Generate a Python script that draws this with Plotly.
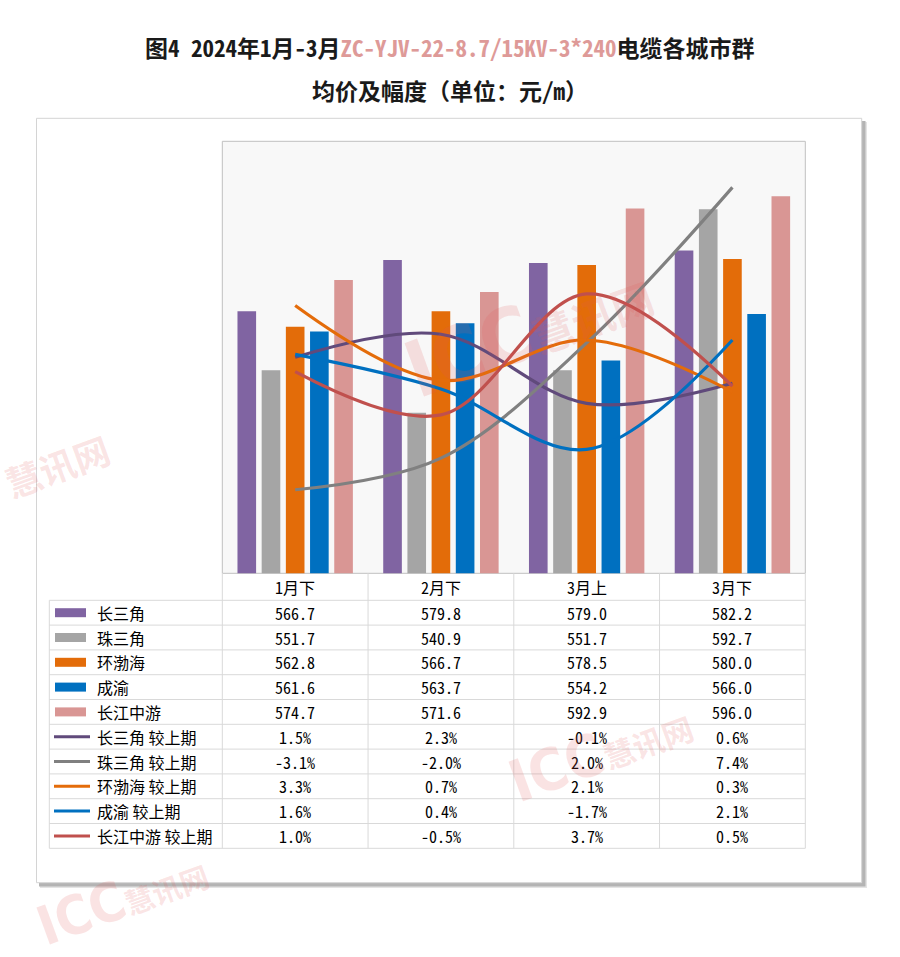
import plotly.graph_objects as go

# ---------------- data ----------------
categories = ["1月下", "2月下", "3月上", "3月下"]
regions = ["长三角", "珠三角", "环渤海", "成渝", "长江中游"]

price_csj = [566.7, 579.8, 579.0, 582.2]
price_zsj = [551.7, 540.9, 551.7, 592.7]
price_hbh = [562.8, 566.7, 578.5, 580.0]
price_cy = [561.6, 563.7, 554.2, 566.0]
price_cjzy = [574.7, 571.6, 592.9, 596.0]

chg_csj = [1.5, 2.3, -0.1, 0.6]
chg_zsj = [-3.1, -2.0, 2.0, 7.4]
chg_hbh = [3.3, 0.7, 2.1, 0.3]
chg_cy = [1.6, 0.4, -1.7, 2.1]
chg_cjzy = [1.0, -0.5, 3.7, 0.5]

prices = [price_csj, price_zsj, price_hbh, price_cy, price_cjzy]
changes = [chg_csj, chg_zsj, chg_hbh, chg_cy, chg_cjzy]
change_suffix = " 较上期"

bar_colors = ["#8064A2", "#A5A5A5", "#E36C09", "#0070C0", "#D99694"]
line_colors = ["#604A7B", "#808080", "#E46C0A", "#0070C0", "#C0504D"]

# ---------------- layout constants (pixels) ----------------
W, H = 900, 957
PL, PR, PT, PB = 222.3, 805.3, 141.3, 573.3
HDR_B = 600.3
ROW_H = 24.8
LEG_L = 49.3
GRID = "#d9d9d9"
MONO = "Noto Sans Mono CJK SC, DejaVu Sans Mono, monospace"
CJK = "Noto Sans CJK SC, sans-serif"


def fx(x):
    return x / W


def fy(y):
    return 1 - y / H


fig = go.Figure()

for name, vals, col in zip(regions, prices, bar_colors):
    fig.add_trace(go.Bar(x=categories, y=vals, name=name, marker_color=col,
                         marker_line_width=0, yaxis="y", showlegend=False))

for name, vals, col in zip(regions, changes, line_colors):
    fig.add_trace(go.Scatter(x=categories, y=vals, name=name + change_suffix, mode="lines",
                             line=dict(color=col, width=3.2, shape="spline", smoothing=1.0),
                             yaxis="y2", showlegend=False))

shapes = []
# outer chart box with shadow
shapes.append(dict(type="rect", xref="paper", yref="paper", x0=fx(40), x1=fx(867), y0=fy(888), y1=fy(122),
                   fillcolor="#e4e4e4", line_width=0, layer="below"))
shapes.append(dict(type="rect", xref="paper", yref="paper", x0=fx(39), x1=fx(865.5), y0=fy(886.5), y1=fy(121),
                   fillcolor="#b4b4b4", line_width=0, layer="below"))
shapes.append(dict(type="rect", xref="paper", yref="paper", x0=fx(36.5), x1=fx(861.7), y0=fy(882.7), y1=fy(118.3),
                   fillcolor="white", line=dict(color="#d4d4d4", width=1), layer="below"))
# plot area
shapes.append(dict(type="rect", xref="paper", yref="paper", x0=fx(PL), x1=fx(PR), y0=fy(PB), y1=fy(PT),
                   fillcolor="#f8f8f8", line=dict(color="#c0c0c0", width=1), layer="below"))

n_rows = 2 * len(regions)
TBL_B = HDR_B + n_rows * ROW_H
col_w = (PR - PL) / len(categories)
# vertical table lines
for i in range(len(categories) + 1):
    xx = PL + i * col_w
    shapes.append(dict(type="line", xref="paper", yref="paper", x0=fx(xx), x1=fx(xx), y0=fy(PB), y1=fy(TBL_B),
                       line=dict(color=GRID, width=1), layer="below"))
shapes.append(dict(type="line", xref="paper", yref="paper", x0=fx(LEG_L), x1=fx(LEG_L), y0=fy(HDR_B), y1=fy(TBL_B),
                   line=dict(color=GRID, width=1), layer="below"))
for k in range(n_rows + 1):
    yy = HDR_B + k * ROW_H
    shapes.append(dict(type="line", xref="paper", yref="paper", x0=fx(LEG_L), x1=fx(PR), y0=fy(yy), y1=fy(yy),
                       line=dict(color=GRID, width=1), layer="below"))

annotations = []
# column headers
for c in categories:
    annotations.append(dict(x=c, xref="x", y=fy((PB + HDR_B) / 2), yref="paper", text=c, showarrow=False,
                            xanchor="center", yanchor="middle", font=dict(family=MONO, size=16, color="black")))

# rows
row_labels = regions + [r + change_suffix for r in regions]
row_values = [[f"{v:.1f}" for v in p] for p in prices] + [[f"{v:.1f}%" for v in c] for c in changes]
for k, (lab, vals) in enumerate(zip(row_labels, row_values)):
    yc = HDR_B + (k + 0.5) * ROW_H
    if k < len(regions):
        shapes.append(dict(type="rect", xref="paper", yref="paper", x0=fx(55), x1=fx(86), y0=fy(yc + 4.5),
                           y1=fy(yc - 4.5), fillcolor=bar_colors[k], line_width=0))
    else:
        shapes.append(dict(type="line", xref="paper", yref="paper", x0=fx(54), x1=fx(90), y0=fy(yc), y1=fy(yc),
                           line=dict(color=line_colors[k - len(regions)], width=3)))
    annotations.append(dict(x=fx(95), xref="paper", y=fy(yc), yref="paper", text=lab, showarrow=False,
                            xanchor="left", yanchor="middle", font=dict(family=CJK, size=16, color="black")))
    for c, v in zip(categories, vals):
        annotations.append(dict(x=c, xref="x", y=fy(yc), yref="paper", text=v, showarrow=False,
                                xanchor="center", yanchor="middle", font=dict(family=MONO, size=16, color="black")))

# title
annotations.append(dict(x=0.5, xref="paper", y=fy(47), yref="paper", showarrow=False, xanchor="center",
                        yanchor="middle",
                        text="<b>图4 2024年1月-3月<span style='color:#DE9A98'>ZC-YJV-22-8.7/15KV-3*240</span>电缆各城市群</b>",
                        font=dict(family=MONO, size=23, color="#1a1a1a")))
annotations.append(dict(x=0.5, xref="paper", y=fy(90), yref="paper", showarrow=False, xanchor="center",
                        yanchor="middle", text="<b>均价及幅度（单位：元/m）</b>",
                        font=dict(family=MONO, size=23, color="#1a1a1a")))

# watermarks (kept fully inside the page)
wm_col = "rgba(226,90,90,0.17)"
wm_font = "DejaVu Sans Condensed, DejaVu Sans, Noto Sans CJK SC"
wm = [(528, 330, 78, True), (600, 752, 58, True), (122, 898, 54, True), (58, 468, 36, False)]
for (wx, wy, ws, with_icc) in wm:
    txt = (f"<b>ICC<span style='font-size:{int(ws*0.55)}px'>慧讯网</span></b>" if with_icc
           else "<b>慧讯网</b>")
    annotations.append(dict(x=fx(wx), xref="paper", y=fy(wy), yref="paper", showarrow=False,
                            xanchor="center", yanchor="middle", textangle=-20, text=txt,
                            font=dict(family=wm_font, size=ws, color=wm_col)))

fig.update_layout(
    width=W, height=H, margin=dict(l=0, r=0, t=0, b=0),
    paper_bgcolor="white", plot_bgcolor="rgba(0,0,0,0)",
    barmode="group", bargap=0.17, bargroupgap=0.23,
    xaxis=dict(domain=[fx(PL), fx(PR)], type="category", range=[-0.5, 3.5], showticklabels=False,
               ticks="", showgrid=False, zeroline=False, showline=False),
    yaxis=dict(domain=[fy(PB), fy(PT)], range=[500, 610], visible=False, showgrid=False),
    yaxis2=dict(domain=[fy(PB), fy(PT)], range=[-6, 9], overlaying="y", side="right", visible=False,
                showgrid=False),
    shapes=shapes, annotations=annotations,
)

fig.write_html("out.html", config={"displayModeBar": False},
               post_script="document.body.style.margin='0';")
